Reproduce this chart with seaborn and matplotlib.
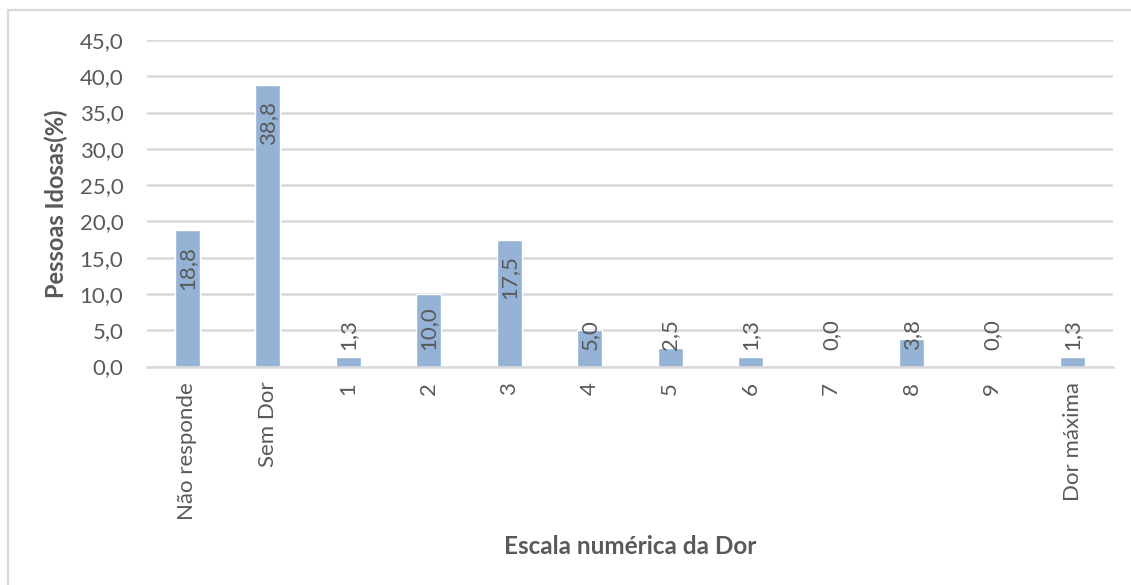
import matplotlib
matplotlib.use("Agg")
import matplotlib.pyplot as plt
import seaborn as sns
import pandas as pd
from matplotlib.patches import Rectangle

# Pain scale categories and share of elderly people (%)
categorias = ["Não responde", "Sem Dor", "1", "2", "3", "4", "5", "6", "7", "8", "9", "Dor máxima"]
percentuais = [18.8, 38.8, 1.3, 10.0, 17.5, 5.0, 2.5, 1.3, 0.0, 3.8, 0.0, 1.3]
yticks = [0, 5, 10, 15, 20, 25, 30, 35, 40, 45]

df = pd.DataFrame({"cat": categorias, "pct": percentuais})

sns.set_theme(style="white")
plt.rcParams["font.family"] = ["Lato", "DejaVu Sans"]

TXT = "#595959"
GRID = "#D9D9D9"
BAR = "#95B3D7"
FS = 16

W, H = 1131, 585
fig = plt.figure(figsize=(W / 100, H / 100), dpi=100)
ax = fig.add_axes([147 / W, 1 - 366.5 / H, (1113 - 147) / W, (366.5 - 40) / H])

sns.barplot(data=df, x="cat", y="pct", color=BAR, saturation=1, width=0.31, ax=ax)

ax.set_ylim(0, 45)
ax.set_xlim(-0.5, len(categorias) - 0.5)
ax.set_yticks(yticks)
ax.set_yticklabels([f"{v:.1f}".replace(".", ",") for v in yticks], fontsize=FS, color=TXT)
ax.set_xticks(range(len(categorias)))
ax.set_xticklabels(categorias, rotation=90, fontsize=FS, color=TXT, va="top")
ax.tick_params(axis="y", length=0, pad=17)
ax.tick_params(axis="x", length=0, pad=11)
ax.yaxis.grid(True, color=GRID, linewidth=1.8)
ax.set_axisbelow(True)
for s in ["top", "right", "left"]:
    ax.spines[s].set_visible(False)
ax.spines["bottom"].set_color(GRID)
ax.spines["bottom"].set_linewidth(1.8)

ax.set_ylabel("Pessoas Idosas(%)", fontsize=17, fontweight="bold", color=TXT, labelpad=8)
ax.set_xlabel("")
fig.text(630 / W, 1 - 546 / H, "Escala numérica da Dor", fontsize=17.5, fontweight="bold",
         color=TXT, ha="center", va="center")

# Value labels: rotated, just inside the bar end, kept clear of the baseline
fig.canvas.draw()
renderer = fig.canvas.get_renderer()
px_per_unit = (366.5 - 40) / 45
gap = 16 / px_per_unit
floor = 16.5 / px_per_unit
for i, v in enumerate(percentuais):
    lbl = f"{v:.1f}".replace(".", ",")
    t = ax.text(i, v - gap, lbl, rotation=90, ha="center", va="top", fontsize=FS, color=TXT)
    bb = t.get_window_extent(renderer)
    length = bb.height / px_per_unit
    if v - gap - length < floor:
        t.set_y(floor)
        t.set_va("bottom")

# Chart frame
fig.patches.append(Rectangle((8 / W, -0.01), 1.02 - 8 / W, 1 - 10 / H + 0.01,
                             transform=fig.transFigure, fill=False,
                             edgecolor=GRID, linewidth=1.6, clip_on=False))

fig.savefig("out.png", dpi=100)
